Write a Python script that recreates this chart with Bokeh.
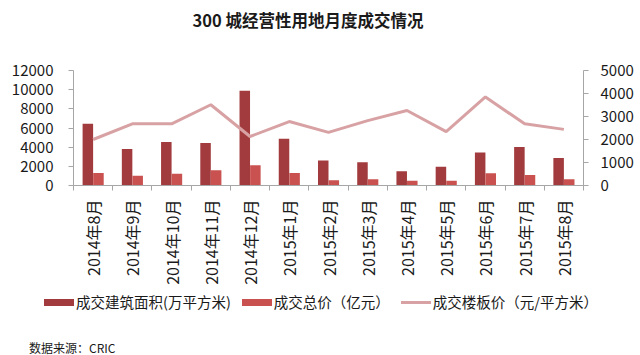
import numpy as np
from bokeh.plotting import figure
from bokeh.layouts import column
from bokeh.models import (Range1d, LinearAxis, FixedTicker, Title, Div)
from bokeh.embed import file_html
from bokeh.resources import INLINE

months = ["2014年8月", "2014年9月", "2014年10月", "2014年11月", "2014年12月", "2015年1月",
          "2015年2月", "2015年3月", "2015年4月", "2015年5月", "2015年6月", "2015年7月", "2015年8月"]
area = [6450, 3800, 4530, 4430, 9880, 4890, 2600, 2420, 1490, 1950, 3440, 4030, 2880]
total = [1300, 1030, 1220, 1590, 2120, 1300, 560, 660, 500, 500, 1290, 1090, 660]
price = [2000, 2680, 2680, 3510, 2130, 2780, 2310, 2820, 3260, 2340, 3850, 2680, 2440]
left_ticks = [0, 2000, 4000, 6000, 8000, 10000, 12000]
right_ticks = [0, 1000, 2000, 3000, 4000, 5000]
series_names = ["成交建筑面积(万平方米)", "成交总价（亿元）", "成交楼板价（元/平方米）"]
source_text = "数据来源：CRIC"

FONT = "Noto Sans CJK SC"
DARK = "#A23B3D"
LIGHT = "#C9514F"
LINEC = "#D8A2A4"
AXC = "#A6A6A6"
TXT = "#1a1a1a"

n = len(months)
centers = np.arange(n) + 0.5

p = figure(width=640, height=290, title=None,
           x_range=Range1d(0, n), y_range=Range1d(0, 12000),
           output_backend="svg", toolbar_location=None,
           min_border_left=73, min_border_right=57, min_border_top=64, min_border_bottom=105)
p.extra_y_ranges = {"right": Range1d(0, 5000)}
p.outline_line_color = None
p.xgrid.grid_line_color = None
p.ygrid.grid_line_color = None

p.add_layout(Title(text=" ", text_font_size="20px"), "above")
p.add_layout(Title(text="300 城经营性用地月度成交情况", align="left", offset=119,
                   text_font=FONT, text_font_size="16.5px", text_font_style="bold",
                   text_color=TXT), "above")

p.vbar(x=centers - 0.134, top=area, width=0.268, fill_color=DARK, line_color=None)
p.vbar(x=centers + 0.136, top=total, width=0.268, fill_color=LIGHT, line_color=None)
p.line(x=centers, y=price, line_color=LINEC, line_width=3, y_range_name="right")

# x axis
xa = p.xaxis[0]
xa.ticker = FixedTicker(ticks=list(centers), minor_ticks=list(range(n + 1)))
xa.major_label_overrides = {float(c): m for c, m in zip(centers, months)}
xa.major_label_orientation = np.pi / 2
xa.major_tick_line_color = None
xa.minor_tick_line_color = AXC
xa.minor_tick_in = 0
xa.minor_tick_out = 5
xa.axis_line_color = AXC
xa.major_label_standoff = 8
xa.major_label_text_font = FONT
xa.major_label_text_font_size = "16px"
xa.major_label_text_color = TXT

# left axis
ya = p.yaxis[0]
ya.ticker = FixedTicker(ticks=left_ticks)
ya.axis_line_color = AXC
ya.major_tick_line_color = AXC
ya.major_tick_in = 0
ya.major_tick_out = 5
ya.minor_tick_line_color = None
ya.major_label_standoff = 15
ya.major_label_text_font = FONT
ya.major_label_text_font_size = "15px"
ya.major_label_text_color = TXT

# right axis
ra = LinearAxis(y_range_name="right", ticker=FixedTicker(ticks=right_ticks))
ra.axis_line_color = AXC
ra.major_tick_line_color = AXC
ra.major_tick_in = 0
ra.major_tick_out = 5
ra.minor_tick_line_color = None
ra.major_label_standoff = 12
ra.major_label_text_font = FONT
ra.major_label_text_font_size = "15px"
ra.major_label_text_color = TXT
p.add_layout(ra, "right")

# legend + source (HTML)
swatches = [
    f"display:inline-block;width:30px;height:7px;background:{DARK};",
    f"display:inline-block;width:30px;height:7px;background:{LIGHT};",
    f"display:inline-block;width:30px;height:3px;background:{LINEC};",
]
items = []
for i, (name, sw) in enumerate(zip(series_names, swatches)):
    ml = "0" if i == 0 else "11px"
    items.append(
        f'<span style="display:inline-flex;align-items:center;margin-left:{ml};">'
        f'<span style="{sw}margin-right:2px;"></span>{name}</span>'
    )
html = (
    f'<div style="position:relative;width:640px;height:65px;font-family:\'{FONT}\';color:{TXT};">'
    f'<div style="position:absolute;left:44px;top:2px;height:20px;display:flex;align-items:center;'
    f'white-space:nowrap;font-size:14.5px;line-height:20px;">{"".join(items)}</div>'
    f'<div style="position:absolute;left:29px;top:51px;font-size:12px;line-height:14px;'
    f'white-space:nowrap;">{source_text}</div>'
    f'</div>'
)
d = Div(text=html, width=640, height=65, margin=(0, 0, 0, 0))

layout = column(p, d, spacing=0)
open("out.html", "w").write(file_html(layout, INLINE))
